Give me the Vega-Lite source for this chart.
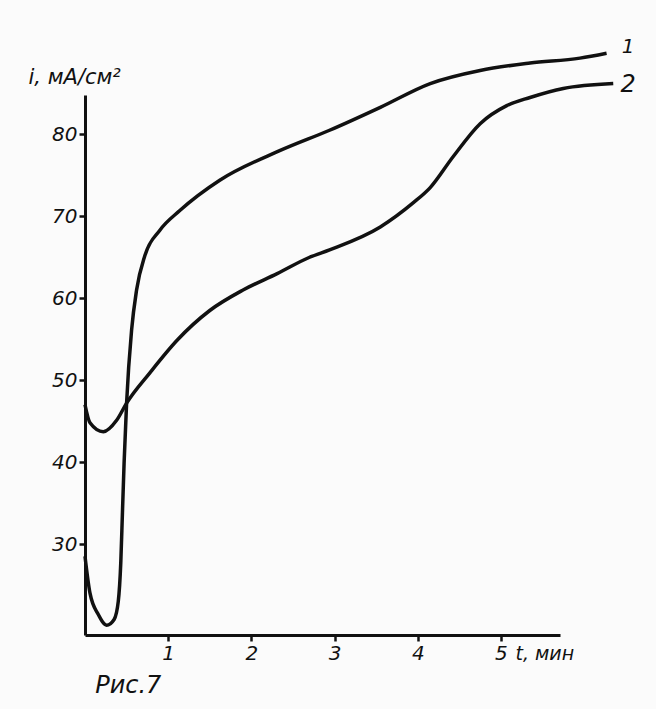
{
  "$schema": "https://vega.github.io/schema/vega-lite/v6.json",
  "autosize": {"type": "none"},
  "width": 475,
  "height": 540,
  "padding": {"left": 85, "top": 95, "right": 96, "bottom": 74},
  "background": "#fbfbfb",
  "config": {"view": {"stroke": null}},
  "datasets": {
    "curves": [
      {"series": "1", "t": 0.0, "v": 28.5},
      {"series": "1", "t": 0.06, "v": 24.0},
      {"series": "1", "t": 0.16, "v": 21.4},
      {"series": "1", "t": 0.26, "v": 20.1},
      {"series": "1", "t": 0.35, "v": 20.8},
      {"series": "1", "t": 0.4, "v": 23.0},
      {"series": "1", "t": 0.43, "v": 27.7},
      {"series": "1", "t": 0.45, "v": 33.8},
      {"series": "1", "t": 0.47, "v": 39.9},
      {"series": "1", "t": 0.5, "v": 47.2},
      {"series": "1", "t": 0.56, "v": 56.1},
      {"series": "1", "t": 0.62, "v": 61.0},
      {"series": "1", "t": 0.72, "v": 65.2},
      {"series": "1", "t": 0.9, "v": 68.3},
      {"series": "1", "t": 1.14, "v": 70.7},
      {"series": "1", "t": 1.62, "v": 74.4},
      {"series": "1", "t": 2.34, "v": 78.0},
      {"series": "1", "t": 2.94, "v": 80.5},
      {"series": "1", "t": 3.55, "v": 83.3},
      {"series": "1", "t": 4.15, "v": 86.2},
      {"series": "1", "t": 4.75, "v": 87.8},
      {"series": "1", "t": 5.35, "v": 88.7},
      {"series": "1", "t": 5.95, "v": 89.3},
      {"series": "1", "t": 6.27, "v": 89.9},
      {"series": "2", "t": 0.0, "v": 47.0},
      {"series": "2", "t": 0.06, "v": 44.8},
      {"series": "2", "t": 0.22, "v": 43.7},
      {"series": "2", "t": 0.38, "v": 45.1},
      {"series": "2", "t": 0.5, "v": 47.2},
      {"series": "2", "t": 0.78, "v": 50.9},
      {"series": "2", "t": 1.11, "v": 54.9},
      {"series": "2", "t": 1.5, "v": 58.5},
      {"series": "2", "t": 1.9, "v": 61.0},
      {"series": "2", "t": 2.31, "v": 63.0},
      {"series": "2", "t": 2.7, "v": 65.0},
      {"series": "2", "t": 2.94, "v": 65.9},
      {"series": "2", "t": 3.55, "v": 68.7},
      {"series": "2", "t": 3.94, "v": 71.6},
      {"series": "2", "t": 4.15, "v": 73.5},
      {"series": "2", "t": 4.42, "v": 77.2},
      {"series": "2", "t": 4.75, "v": 81.3},
      {"series": "2", "t": 5.07, "v": 83.5},
      {"series": "2", "t": 5.35, "v": 84.5},
      {"series": "2", "t": 5.75, "v": 85.6},
      {"series": "2", "t": 6.35, "v": 86.2}
    ],
    "labels": [
      {"label": "1", "t": 6.53, "v": 90.6, "size": 20},
      {"label": "2", "t": 6.53, "v": 86.0, "size": 24},
      {"label": "Рис.7", "t": 0.52, "v": 12.7, "size": 24}
    ]
  },
  "layer": [
    {
      "data": {"name": "curves"},
      "mark": {"type": "line", "color": "#111111", "strokeWidth": 3.5, "interpolate": "monotone", "clip": false},
      "encoding": {
        "x": {
          "field": "t", "type": "quantitative",
          "scale": {"domain": [0, 5.71], "nice": false, "zero": false},
          "axis": {
            "values": [1, 2, 3, 4, 5], "format": "d", "grid": false,
            "domain": true, "domainColor": "#111111", "domainWidth": 3,
            "ticks": true, "tickColor": "#111111", "tickWidth": 2.5, "tickSize": 6,
            "labelFont": "DejaVu Sans", "labelFontStyle": "italic", "labelFontSize": 20, "labelColor": "#111111", "labelPadding": 2,
            "title": "t, мин", "titleFont": "DejaVu Sans", "titleFontStyle": "italic", "titleFontWeight": "normal", "titleFontSize": 19, "titleColor": "#111111",
            "titleAnchor": "start", "titleAlign": "left", "titleBaseline": "alphabetic", "titleX": 430, "titleY": 24
          }
        },
        "y": {
          "field": "v", "type": "quantitative",
          "scale": {"domain": [18.9, 84.8], "nice": false, "zero": false},
          "axis": {
            "values": [30, 40, 50, 60, 70, 80], "format": "d", "grid": false,
            "domain": true, "domainColor": "#111111", "domainWidth": 3,
            "ticks": true, "tickColor": "#111111", "tickWidth": 2.5, "tickSize": 6,
            "labelFont": "DejaVu Sans", "labelFontStyle": "italic", "labelFontSize": 20, "labelColor": "#111111", "labelPadding": 2,
            "title": "i, мА/см²", "titleFont": "DejaVu Sans", "titleFontStyle": "italic", "titleFontWeight": "normal", "titleFontSize": 21, "titleColor": "#111111",
            "titleAngle": 0, "titleAlign": "left", "titleBaseline": "alphabetic", "titleX": -57, "titleY": -12
          }
        },
        "detail": {"field": "series"}
      }
    },
    {
      "data": {"name": "labels"},
      "mark": {"type": "text", "font": "DejaVu Sans", "fontStyle": "italic", "color": "#111111", "align": "center", "baseline": "middle"},
      "encoding": {
        "x": {"field": "t", "type": "quantitative"},
        "y": {"field": "v", "type": "quantitative"},
        "text": {"field": "label"},
        "size": {"field": "size", "type": "quantitative", "scale": null, "legend": null}
      }
    }
  ]
}
